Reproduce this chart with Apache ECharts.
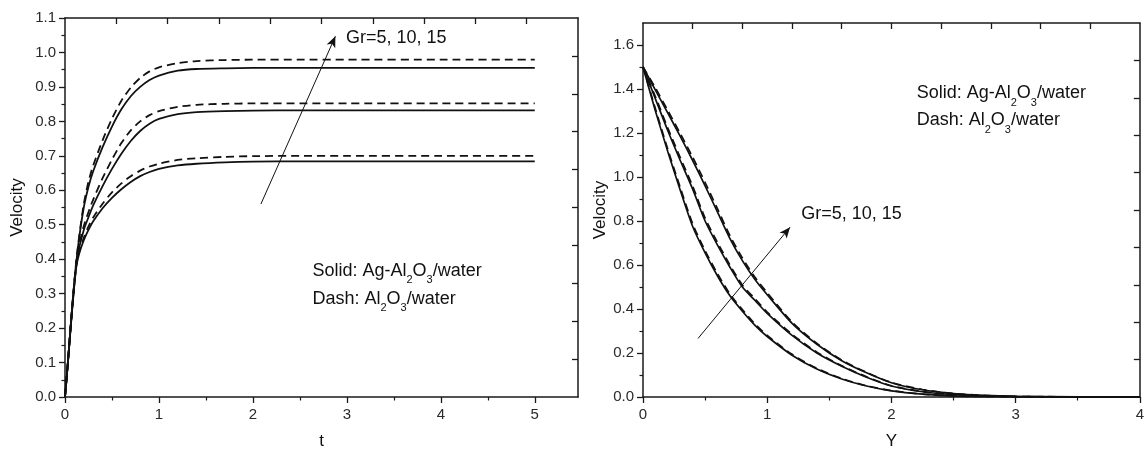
<!DOCTYPE html>
<html><head><meta charset="utf-8">
<script src="https://cdn.jsdelivr.net/npm/echarts@6/dist/echarts.min.js"></script>
<style>html,body{margin:0;padding:0;background:#fff}#c{width:1147px;height:455px}</style>
</head><body><div id="c"></div>
<script>
// ---------- Left panel: Velocity vs t ----------
const tVals = [0, 0.03, 0.06, 0.09, 0.12, 0.15, 0.2, 0.25, 0.3, 0.4, 0.5, 0.6, 0.7, 0.8, 0.9, 1.0, 1.2, 1.4, 1.7, 2.0, 2.5, 3, 4, 5];
const tGr5Solid  = [0, 0.096, 0.200, 0.297, 0.378, 0.415, 0.455, 0.485, 0.510, 0.548, 0.578, 0.603, 0.624, 0.641, 0.653, 0.662, 0.672, 0.677, 0.681, 0.683, 0.684, 0.684, 0.684, 0.684];
const tGr5Dash   = [0, 0.097, 0.202, 0.300, 0.380, 0.420, 0.462, 0.495, 0.521, 0.561, 0.594, 0.620, 0.641, 0.657, 0.669, 0.677, 0.688, 0.693, 0.697, 0.699, 0.700, 0.700, 0.700, 0.700];
const tGr10Solid = [0, 0.097, 0.202, 0.300, 0.385, 0.432, 0.485, 0.522, 0.556, 0.612, 0.662, 0.706, 0.743, 0.772, 0.793, 0.807, 0.821, 0.827, 0.830, 0.831, 0.832, 0.832, 0.832, 0.832];
const tGr10Dash  = [0, 0.098, 0.204, 0.303, 0.390, 0.440, 0.496, 0.537, 0.573, 0.635, 0.689, 0.737, 0.774, 0.800, 0.818, 0.830, 0.842, 0.848, 0.851, 0.852, 0.852, 0.852, 0.852, 0.852];
const tGr15Solid = [0, 0.098, 0.204, 0.303, 0.390, 0.460, 0.550, 0.610, 0.655, 0.725, 0.785, 0.835, 0.873, 0.900, 0.920, 0.933, 0.947, 0.952, 0.954, 0.955, 0.955, 0.955, 0.955, 0.955];
const tGr15Dash  = [0, 0.099, 0.206, 0.306, 0.395, 0.465, 0.560, 0.625, 0.672, 0.745, 0.808, 0.860, 0.898, 0.926, 0.945, 0.957, 0.969, 0.975, 0.978, 0.979, 0.979, 0.979, 0.979, 0.979];
const tTickLabels = [0, 1, 2, 3, 4, 5];
const tMinorTicks = [0.5, 1.5, 2.5, 3.5, 4.5];
const vTickLabelsL = [0, 0.1, 0.2, 0.3, 0.4, 0.5, 0.6, 0.7, 0.8, 0.9, 1.0, 1.1];
const vMinorTicksL = [0.05, 0.15, 0.25, 0.35, 0.45, 0.55, 0.65, 0.75, 0.85, 0.95, 1.05];

// ---------- Right panel: Velocity vs Y ----------
const yVals = [0, 0.1, 0.2, 0.3, 0.4, 0.5, 0.6, 0.7, 0.8, 0.9, 1.0, 1.2, 1.4, 1.6, 1.8, 2.0, 2.25, 2.5, 2.75, 3.0, 3.5, 4.0];
const yGr5Solid  = [1.5, 1.300, 1.115, 0.940, 0.775, 0.655, 0.550, 0.460, 0.390, 0.327, 0.275, 0.190, 0.127, 0.082, 0.050, 0.028, 0.013, 0.005, 0.002, 0.001, 0.0, 0.0];
const yGr5Dash   = [1.5, 1.310, 1.125, 0.952, 0.787, 0.665, 0.560, 0.468, 0.397, 0.333, 0.280, 0.194, 0.130, 0.084, 0.051, 0.029, 0.013, 0.005, 0.002, 0.001, 0.0, 0.0];
const yGr10Solid = [1.5, 1.355, 1.210, 1.075, 0.945, 0.800, 0.690, 0.590, 0.500, 0.440, 0.380, 0.280, 0.200, 0.140, 0.090, 0.050, 0.024, 0.011, 0.005, 0.002, 0.0005, 0.0];
const yGr10Dash  = [1.5, 1.365, 1.222, 1.088, 0.958, 0.813, 0.702, 0.600, 0.509, 0.447, 0.386, 0.285, 0.204, 0.142, 0.092, 0.051, 0.025, 0.011, 0.005, 0.002, 0.0005, 0.0];
const yGr15Solid = [1.5, 1.395, 1.290, 1.185, 1.075, 0.960, 0.840, 0.720, 0.620, 0.535, 0.465, 0.335, 0.240, 0.165, 0.110, 0.065, 0.033, 0.016, 0.007, 0.003, 0.0005, 0.0];
const yGr15Dash  = [1.5, 1.405, 1.302, 1.198, 1.090, 0.975, 0.855, 0.733, 0.632, 0.545, 0.474, 0.341, 0.244, 0.168, 0.112, 0.066, 0.034, 0.016, 0.007, 0.003, 0.0005, 0.0];
const yTickLabels = [0, 1, 2, 3, 4];
const yMinorTicks = [0.5, 1.5, 2.5, 3.5];
const vTickLabelsR = [0, 0.2, 0.4, 0.6, 0.8, 1.0, 1.2, 1.4, 1.6];
const vMinorTicksR = [0.1, 0.3, 0.5, 0.7, 0.9, 1.1, 1.3, 1.5];

// mirror (top / right) axes: ten equal divisions
const mirrorTicks = [1, 2, 3, 4, 5, 6, 7, 8, 9];

// ---------- Annotations (data coordinates) ----------
const grText = 'Gr=5, 10, 15';
const solidParts = [['n', 'Solid: Ag-Al'], ['s', '2'], ['n', 'O'], ['s', '3'], ['n', '/water']];
const dashParts  = [['n', 'Dash: Al'], ['s', '2'], ['n', 'O'], ['s', '3'], ['n', '/water']];
const leftArrow  = [[2.085, 0.560], [2.878, 1.047]];
const rightArrow = [[0.443, 0.266], [1.184, 0.772]];
const leftGrPos  = [2.99, 1.042];
const rightGrPos = [1.274, 0.835];
const leftSolidPos = [2.633, 0.368];
const leftDashPos  = [2.633, 0.287];
const rightSolidPos = [2.203, 1.384];
const rightDashPos  = [2.203, 1.259];

const FONT = "'Liberation Sans', Arial, Helvetica, sans-serif";
const INK = '#111';
const LBL = '#2a2a2a';
const AX = '#1a1a1a';

function zip(xs, ys) { return xs.map((x, i) => [x, ys[i]]); }
function fmt(v, d) { return Number(v).toFixed(d); }

function mainX(grid, max, labels, name) {
  return {
    type: 'value', gridIndex: grid, position: 'bottom', min: 0, max: max,
    axisLine: { show: true, onZero: false, lineStyle: { color: AX, width: 1.5 } },
    axisTick: { show: true, inside: false, length: 6, customValues: labels, lineStyle: { color: AX, width: 1.3 } },
    axisLabel: { show: true, customValues: labels, margin: 10, color: LBL, fontFamily: FONT, fontSize: 15,
                 formatter: v => fmt(v, 0) },
    splitLine: { show: false }, minorTick: { show: false },
    name: name, nameLocation: 'middle', nameGap: 36,
    nameTextStyle: { color: INK, fontFamily: FONT, fontSize: 17 }
  };
}
function minorX(grid, max, ticks) {
  return {
    type: 'value', gridIndex: grid, position: 'bottom', min: 0, max: max,
    axisLine: { show: false }, axisLabel: { show: false }, splitLine: { show: false },
    axisTick: { show: true, inside: false, length: 3.5, customValues: ticks, lineStyle: { color: AX, width: 1.2 } }
  };
}
function topX(grid) {
  return {
    type: 'value', gridIndex: grid, position: 'top', min: 0, max: 10,
    axisLine: { show: true, onZero: false, lineStyle: { color: AX, width: 1.5 } },
    axisTick: { show: true, inside: true, length: 6, customValues: mirrorTicks, lineStyle: { color: AX, width: 1.3 } },
    axisLabel: { show: false }, splitLine: { show: false }
  };
}
function mainY(grid, max, labels, gap) {
  return {
    type: 'value', gridIndex: grid, position: 'left', min: 0, max: max,
    axisLine: { show: true, onZero: false, lineStyle: { color: AX, width: 1.5 } },
    axisTick: { show: true, inside: false, length: 6, customValues: labels, lineStyle: { color: AX, width: 1.3 } },
    axisLabel: { show: true, customValues: labels, margin: 9, color: LBL, fontFamily: FONT, fontSize: 15,
                 formatter: v => fmt(v, 1) },
    splitLine: { show: false }, minorTick: { show: false },
    name: 'Velocity', nameLocation: 'middle', nameGap: gap, nameRotate: 90,
    nameTextStyle: { color: INK, fontFamily: FONT, fontSize: 17 }
  };
}
function minorY(grid, max, ticks) {
  return {
    type: 'value', gridIndex: grid, position: 'left', min: 0, max: max,
    axisLine: { show: false }, axisLabel: { show: false }, splitLine: { show: false },
    axisTick: { show: true, inside: false, length: 3.5, customValues: ticks, lineStyle: { color: AX, width: 1.2 } }
  };
}
function rightY(grid) {
  return {
    type: 'value', gridIndex: grid, position: 'right', min: 0, max: 10,
    axisLine: { show: true, onZero: false, lineStyle: { color: AX, width: 1.5 } },
    axisTick: { show: true, inside: true, length: 6, customValues: mirrorTicks, lineStyle: { color: AX, width: 1.3 } },
    axisLabel: { show: false }, splitLine: { show: false }
  };
}

function curve(xs, ys, dashed, xi, yi, width) {
  return {
    type: 'line', xAxisIndex: xi, yAxisIndex: yi, data: zip(xs, ys),
    showSymbol: false, symbol: 'none', smooth: 0.25,
    silent: true, z: dashed ? 3 : 2,
    lineStyle: { color: INK, width: width, type: dashed ? [8, 5] : 'solid' }
  };
}
function arrowMark(a) {
  return {
    silent: true, symbol: ['none', 'arrow'], symbolSize: [7, 11], animation: false,
    label: { show: false }, emphasis: { disabled: true },
    lineStyle: { color: INK, width: 1, type: 'solid' },
    data: [[{ coord: a[0] }, { coord: a[1] }]]
  };
}

const chart = echarts.init(document.getElementById('c'), null, { renderer: 'canvas' });

const leftSeries = [
  curve(tVals, tGr5Solid, false, 0, 0, 1.8),
  curve(tVals, tGr5Dash, true, 0, 0, 1.8),
  curve(tVals, tGr10Solid, false, 0, 0, 1.8),
  curve(tVals, tGr10Dash, true, 0, 0, 1.8),
  curve(tVals, tGr15Solid, false, 0, 0, 1.8),
  curve(tVals, tGr15Dash, true, 0, 0, 1.8)
];
leftSeries[0].markLine = arrowMark(leftArrow);
const rightSeries = [
  curve(yVals, yGr5Solid, false, 3, 3, 1.7),
  curve(yVals, yGr5Dash, true, 3, 3, 1.7),
  curve(yVals, yGr10Solid, false, 3, 3, 1.7),
  curve(yVals, yGr10Dash, true, 3, 3, 1.7),
  curve(yVals, yGr15Solid, false, 3, 3, 1.7),
  curve(yVals, yGr15Dash, true, 3, 3, 1.7)
];
rightSeries[0].markLine = arrowMark(rightArrow);

chart.setOption({
  animation: false,
  backgroundColor: '#fff',
  grid: [
    { left: 65, top: 18, width: 513, height: 384 },
    { left: 643, top: 23, width: 503, height: 380 }
  ],
  xAxis: [
    mainX(0, 5.46, tTickLabels, 't'), minorX(0, 5.46, tMinorTicks), topX(0),
    mainX(1, 4, yTickLabels, 'Y'), minorX(1, 4, yMinorTicks), topX(1)
  ],
  yAxis: [
    mainY(0, 1.1, vTickLabelsL, 39), minorY(0, 1.1, vMinorTicksL), rightY(0),
    mainY(1, 1.7, vTickLabelsR, 31), minorY(1, 1.7, vMinorTicksR), rightY(1)
  ],
  series: leftSeries.concat(rightSeries)
});

function richText(parts) {
  return parts.map(p => '{' + p[0] + '|' + p[1] + '}').join('');
}
const rich = {
  n: { fontSize: 18, fontFamily: FONT, fill: INK, color: INK, lineHeight: 18, verticalAlign: 'top' },
  s: { fontSize: 11, fontFamily: FONT, fill: INK, color: INK, lineHeight: 11, verticalAlign: 'bottom' },
  pad: { fontSize: 11, lineHeight: 24, verticalAlign: 'bottom' }
};
function px(idx, p) { return chart.convertToPixel({ xAxisIndex: idx, yAxisIndex: idx }, p); }
function chemLabel(idx, pos, parts) {
  const q = px(idx, pos);
  return {
    type: 'text', x: q[0], y: q[1] - 8.5, silent: true, z: 10,
    style: { text: richText(parts) + '{pad|}', rich: rich, fill: INK, align: 'left', verticalAlign: 'top',
             textAlign: 'left', textVerticalAlign: 'top' }
  };
}
function plainLabel(idx, pos, text) {
  const q = px(idx, pos);
  return {
    type: 'text', x: q[0], y: q[1] + 0.5, silent: true, z: 10,
    style: { text: text, fill: INK, font: '18px ' + FONT, align: 'left', verticalAlign: 'middle',
             textAlign: 'left', textVerticalAlign: 'middle' }
  };
}
chart.setOption({
  graphic: [
    plainLabel(0, leftGrPos, grText),
    chemLabel(0, leftSolidPos, solidParts),
    chemLabel(0, leftDashPos, dashParts),
    plainLabel(3, rightGrPos, grText),
    chemLabel(3, rightSolidPos, solidParts),
    chemLabel(3, rightDashPos, dashParts)
  ]
});
</script>
</body></html>
